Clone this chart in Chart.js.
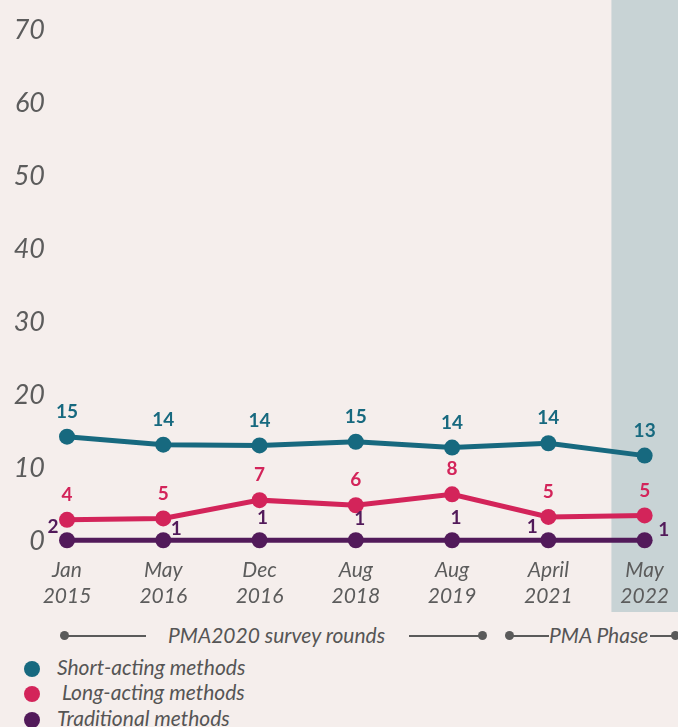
<!DOCTYPE html>
<html lang="en">
<head>
  <meta charset="UTF-8" />
  <title>Method mix over survey rounds</title>
  <style>
    * { box-sizing: border-box; margin: 0; padding: 0; }
    html, body {
      width: 678px;
      height: 727px;
      background: #f5eeec;
      font-family: 'Lato', 'Open Sans', sans-serif;
      overflow: hidden;
    }
    #wrap { position: relative; width: 678px; height: 612px; }
    #legend { position: relative; width: 678px; height: 115px; color: #555; font-style: italic; font-size: 21px; }
    .rule { position: absolute; height: 2px; background: #5a5a5a; top: 23px; }
    .dot { position: absolute; width: 9px; height: 9px; border-radius: 50%; background: #5a5a5a; top: 19px; }
    .rtext { position: absolute; top: 12px; line-height: 22px; white-space: nowrap; }
    .item { position: absolute; left: 24px; height: 22px; line-height: 22px; white-space: nowrap; }
    .item span.sw { display: inline-block; width: 16px; height: 16px; border-radius: 50%; vertical-align: -2px; margin-right: 17px; }
  </style>
</head>
<body>
  <div id="wrap"><canvas id="chart" width="678" height="612"></canvas></div>
  <div id="legend">
    <div class="dot" style="left:60px"></div>
    <div class="rule" style="left:64px;width:82px"></div>
    <div class="rtext" style="left:168px">PMA2020 survey rounds</div>
    <div class="rule" style="left:409px;width:72px"></div>
    <div class="dot" style="left:478px"></div>
    <div class="dot" style="left:505px"></div>
    <div class="rule" style="left:509px;width:40px"></div>
    <div class="rtext" style="left:549px">PMA Phase</div>
    <div class="rule" style="left:650px;width:24px"></div>
    <div class="dot" style="left:671px"></div>
    <div class="item" style="top:44px"><span class="sw" style="background:#17697f"></span>Short-acting methods</div>
    <div class="item" style="top:69px"><span class="sw" style="background:#d3245a"></span>&nbsp;Long-acting methods</div>
    <div class="item" style="top:95px"><span class="sw" style="background:#521a5a"></span>Traditional methods</div>
  </div>

  <script src="https://cdn.jsdelivr.net/npm/chart.js"></script>
  <script>
    const months = ['Jan', 'May', 'Dec', 'Aug', 'Aug', 'April', 'May'];
    const years = ['2015', '2016', '2016', '2018', '2019', '2021', '2022'];

    // plotted positions (as drawn) and the printed labels
    const shortActing = [14.3, 13.2, 13.1, 13.6, 12.8, 13.4, 11.7];
    const longActing = [2.9, 3.1, 5.6, 4.9, 6.4, 3.3, 3.5];
    const traditional = [0.1, 0.1, 0.1, 0.1, 0.1, 0.1, 0.1];

    const shortLabels = [15, 14, 14, 15, 14, 14, 13];
    const longLabels = [4, 5, 7, 6, 8, 5, 5];
    const tradLabels = [2, 1, 1, 1, 1, 1, 1];

    const yTicks = [0, 10, 20, 30, 40, 50, 60, 70];

    // label offsets for the traditional series (they dodge around the line)
    const tradOffsets = [[-14, -13], [13, -11], [3, -22], [4, -21], [4, -22], [-16, -13], [19, -10]];

    const teal = '#17697f';
    const pink = '#d3245a';
    const purple = '#521a5a';

    const phaseBand = {
      id: 'phaseBand',
      beforeDraw(chart) {
        const x = chart.scales.x;
        const c = chart.ctx;
        const last = x.getPixelForValue(months.length - 1);
        const step = x.getPixelForValue(1) - x.getPixelForValue(0);
        c.save();
        c.fillStyle = '#c8d3d5';
        c.fillRect(last - step * 0.345, 0, chart.width - (last - step * 0.345), chart.height);
        c.restore();
      }
    };

    const valueLabels = {
      id: 'valueLabels',
      afterDatasetsDraw(chart) {
        const c = chart.ctx;
        c.save();
        c.font = 'bold 19px Lato, sans-serif';
        c.textAlign = 'center';
        c.textBaseline = 'middle';
        chart.data.datasets.forEach((ds, i) => {
          const meta = chart.getDatasetMeta(i);
          meta.data.forEach((pt, j) => {
            let dx = 0, dy = -25;
            if (i === 2) { dx = tradOffsets[j][0]; dy = tradOffsets[j][1]; }
            c.fillStyle = ds.borderColor;
            c.fillText(ds.printed[j], pt.x + dx, pt.y + dy);
          });
        });
        c.restore();
      }
    };

    const ctx = document.getElementById('chart').getContext('2d');
    new Chart(ctx, {
      type: 'line',
      data: {
        labels: months.map((m, i) => [m, years[i]]),
        datasets: [
          { label: 'Short-acting methods', data: shortActing, printed: shortLabels, borderColor: teal, backgroundColor: teal },
          { label: 'Long-acting methods', data: longActing, printed: longLabels, borderColor: pink, backgroundColor: pink },
          { label: 'Traditional methods', data: traditional, printed: tradLabels, borderColor: purple, backgroundColor: purple }
        ]
      },
      options: {
        responsive: false,
        animation: false,
        clip: false,
        elements: {
          line: { borderWidth: 5, tension: 0 },
          point: { radius: 8, hoverRadius: 8, borderWidth: 0 }
        },
        layout: { padding: { top: 11, right: 22, left: 0, bottom: 0 } },
        plugins: {
          legend: { display: false },
          tooltip: { enabled: false }
        },
        scales: {
          x: {
            offset: false,
            grid: { display: false },
            border: { display: false },
            ticks: {
              color: '#5c5c5c',
              padding: 9,
              maxRotation: 0,
              autoSkip: false,
              font: { family: 'Lato', size: 21, style: 'italic', lineHeight: 1.2 }
            },
            afterFit(s) { s.height = 71; }
          },
          y: {
            min: 0,
            max: 70,
            grid: { display: false },
            border: { display: false },
            afterBuildTicks(s) { s.ticks = yTicks.map(v => ({ value: v })); },
            ticks: {
              color: '#5c5c5c',
              padding: 14,
              font: { family: 'Lato', size: 27, style: 'italic' }
            },
            afterFit(s) { s.width = 67; }
          }
        }
      },
      plugins: [phaseBand, valueLabels]
    });
  </script>
</body>
</html>
